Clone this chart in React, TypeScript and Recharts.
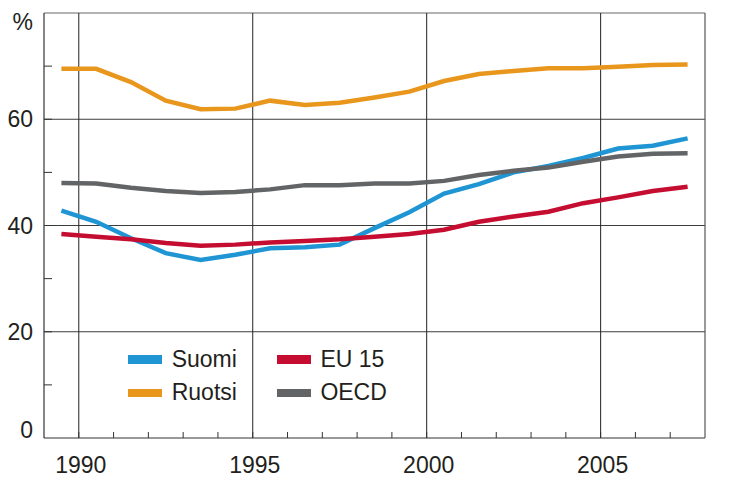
import { Line, LineChart, ReferenceLine, XAxis, YAxis } from "recharts"

const years = [1989, 1990, 1991, 1992, 1993, 1994, 1995, 1996, 1997, 1998, 1999, 2000, 2001, 2002, 2003, 2004, 2005, 2006, 2007]
const suomi = [42.8, 40.7, 37.6, 34.8, 33.5, 34.5, 35.7, 35.9, 36.4, 39.5, 42.5, 46.0, 47.8, 50.0, 51.2, 52.7, 54.5, 55.0, 56.4]
const ruotsi = [69.5, 69.5, 67.0, 63.5, 61.9, 62.0, 63.5, 62.7, 63.1, 64.1, 65.2, 67.2, 68.5, 69.1, 69.6, 69.6, 69.9, 70.2, 70.3]
const eu15 = [38.4, 37.9, 37.4, 36.7, 36.2, 36.4, 36.8, 37.1, 37.4, 37.9, 38.4, 39.2, 40.7, 41.7, 42.6, 44.2, 45.3, 46.5, 47.3]
const oecd = [48.0, 47.9, 47.1, 46.5, 46.1, 46.3, 46.8, 47.6, 47.6, 47.9, 47.9, 48.4, 49.5, 50.3, 50.9, 52.0, 53.0, 53.5, 53.6]

const xTicks = [1990, 1991, 1992, 1993, 1994, 1995, 1996, 1997, 1998, 1999, 2000, 2001, 2002, 2003, 2004, 2005, 2006, 2007]
const labelYears = [1990, 1995, 2000, 2005]
const yTicks = [0, 10, 20, 30, 40, 50, 60, 70, 80]
const yLabels = [0, 20, 40, 60]
const legendOrder = ["Suomi", "EU 15", "Ruotsi", "OECD"]

const colors: Record<string, string> = { Suomi: "#1f95d3", Ruotsi: "#e9961d", "EU 15": "#c50d31", OECD: "#636466" }
const textColor = "#231f20"
const font = "'Liberation Sans', Arial, sans-serif"

// points sit in the middle of each year
const data = years.map((y, i) => ({
  x: y + 0.5,
  Suomi: suomi[i],
  Ruotsi: ruotsi[i],
  "EU 15": eu15[i],
  OECD: oecd[i],
}))

function XTick(props: any) {
  const { x, y, payload } = props
  const v = payload.value
  return (
    <g>
      <line x1={x} x2={x} y1={y} y2={y - 6} stroke="#333" strokeWidth={1} />
      {labelYears.includes(v) && (
        <text x={x + 2} y={y + 35} textAnchor="middle" fontSize={23} fill={textColor} fontFamily={font}>
          {v}
        </text>
      )}
    </g>
  )
}

function YTick(props: any) {
  const { x, y, payload, side } = props
  const v = payload.value
  const dir = side === "left" ? 1 : -1
  const tx = side === "left" ? x - 11 : x + 12
  const anchor = side === "left" ? "end" : "start"
  let label: string | null = null
  let dy = 8
  if (v === 80) {
    label = "%"
    dy = 17
  } else if (yLabels.includes(v)) {
    label = String(v)
    if (v === 0) dy = 0
  }
  return (
    <g>
      {v !== 0 && v !== 80 && <line x1={x} x2={x + dir * 8} y1={y} y2={y} stroke="#333" strokeWidth={1} />}
      {label && (
        <text x={tx} y={y + dy} textAnchor={anchor} fontSize={23} fill={textColor} fontFamily={font}>
          {label}
        </text>
      )}
    </g>
  )
}

function LegendBox() {
  return (
    <div
      style={{
        position: "absolute",
        left: 128,
        top: 343,
        display: "grid",
        gridTemplateColumns: "148.7px 148px",
        gridAutoRows: "33.3px",
        fontFamily: font,
        fontSize: 23,
        color: textColor,
      }}
    >
      {legendOrder.map((n) => (
        <div key={n} style={{ display: "flex", alignItems: "center" }}>
          <span style={{ display: "inline-block", width: 34, height: 8.5, background: colors[n], marginRight: 9.7 }} />
          <span>{n}</span>
        </div>
      ))}
    </div>
  )
}

export default function App() {
  return (
    <div style={{ position: "absolute", left: 0, top: 0, width: 744, height: 478, background: "#fff" }}>
      <LineChart width={744} height={478} data={data} margin={{ top: 13, right: 0, left: 0, bottom: 0 }}>
        <XAxis
          dataKey="x"
          type="number"
          domain={[1989, 2008]}
          ticks={xTicks}
          interval={0}
          height={40}
          tickSize={0}
          tickMargin={0}
          tick={<XTick />}
          axisLine={{ stroke: "#333", strokeWidth: 1.2 }}
          tickLine={false}
        />
        <YAxis
          yAxisId="l"
          domain={[0, 80]}
          ticks={yTicks}
          interval={0}
          width={44}
          tickSize={0}
          tickMargin={0}
          tick={<YTick side="left" />}
          axisLine={{ stroke: "#333", strokeWidth: 1.2 }}
          tickLine={false}
        />
        <YAxis
          yAxisId="r"
          orientation="right"
          domain={[0, 80]}
          ticks={yTicks}
          interval={0}
          width={39}
          tickSize={0}
          tickMargin={0}
          tick={<YTick side="right" />}
          axisLine={{ stroke: "#555", strokeWidth: 1.2 }}
          tickLine={false}
        />
        {[20, 40, 60].map((v) => (
          <ReferenceLine key={v} yAxisId="l" y={v} stroke="#3c3c3c" strokeWidth={1} />
        ))}
        <ReferenceLine yAxisId="l" y={80} stroke="#666" strokeWidth={1} />
        {labelYears.map((v) => (
          <ReferenceLine key={v} yAxisId="l" x={v} stroke="#222" strokeWidth={1} />
        ))}
        <Line yAxisId="l" type="linear" dataKey="Suomi" stroke={colors.Suomi} strokeWidth={4.5} dot={false} isAnimationActive={false} />
        <Line yAxisId="l" type="linear" dataKey="Ruotsi" stroke={colors.Ruotsi} strokeWidth={4.5} dot={false} isAnimationActive={false} />
        <Line yAxisId="l" type="linear" dataKey="EU 15" stroke={colors["EU 15"]} strokeWidth={4.5} dot={false} isAnimationActive={false} />
        <Line yAxisId="l" type="linear" dataKey="OECD" stroke={colors.OECD} strokeWidth={4.5} dot={false} isAnimationActive={false} />
      </LineChart>
      <LegendBox />
    </div>
  )
}
